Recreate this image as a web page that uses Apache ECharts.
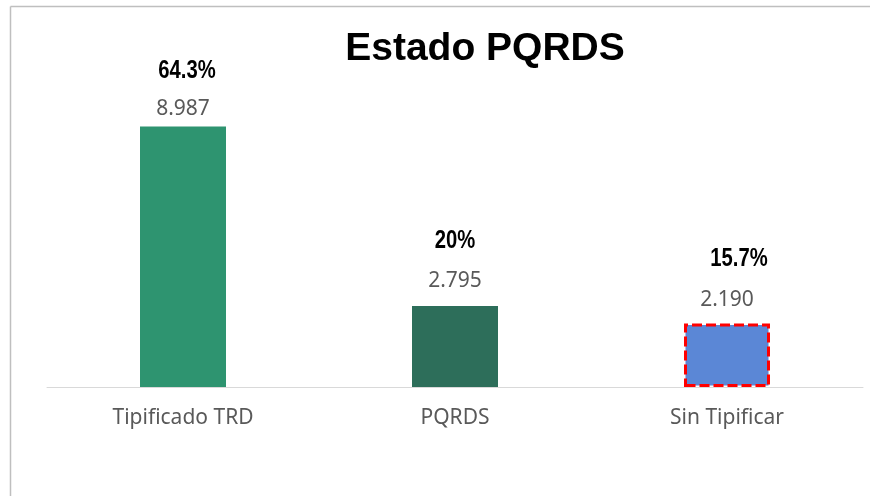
<!DOCTYPE html>
<html>
<head>
<meta charset="utf-8">
<style>
  html, body { margin: 0; padding: 0; background: #fff; }
  #chart { width: 870px; height: 496px; }
</style>
<script src="https://cdn.jsdelivr.net/npm/echarts@6/dist/echarts.min.js"></script>
</head>
<body>
<div id="chart"></div>
<script>
// datos del gráfico
const categorias = ['Tipificado TRD', 'PQRDS', 'Sin Tipificar']
const valores = [8987, 2795, 2190]
const porcentajes = ['64.3%', '20%', '15.7%']
const colores = ['#2e9470', '#2d6e5a', '#5b87d6']

// 8987 -> "8.987"
function miles (v) {
  return String(v).replace(/\B(?=(\d{3})+(?!\d))/g, '.')
}

// separación de etiquetas respecto al borde superior de la barra
const distValor = [7, 14, 13]
const distPorc = [[4, 55], [0, 65], [12, 64]]

const dom = echarts.init(document.getElementById('chart'))
const option = {
  animation: false,
  title: {
    text: 'Estado PQRDS',
    left: 480,
    textAlign: 'center',
    top: 25,
    textStyle: {
      fontFamily: 'Liberation Sans',
      fontWeight: 'bold',
      fontSize: 39,
      color: '#000'
    }
  },
  graphic: [
    { type: 'line', shape: { x1: 10.5, y1: 6.5, x2: 870, y2: 6.5 }, style: { stroke: '#bfbfbf', lineWidth: 1.5 } },
    { type: 'line', shape: { x1: 10.5, y1: 6.5, x2: 10.5, y2: 496 }, style: { stroke: '#bfbfbf', lineWidth: 1.5 } }
  ],
  grid: {
    left: 47,
    right: 7,
    top: 97,
    bottom: 109
  },
  xAxis: {
    type: 'category',
    data: categorias,
    axisTick: { show: false },
    axisLine: { lineStyle: { color: '#d9d9d9', width: 1 } },
    axisLabel: {
      margin: 21,
      fontFamily: 'Noto Sans',
      fontSize: 21,
      color: '#595959'
    }
  },
  yAxis: {
    type: 'value',
    min: 0,
    max: 10000,
    show: false,
    splitLine: { show: false }
  },
  series: [
    {
      type: 'bar',
      barWidth: 86,
      data: valores.map((v, i) => ({
        value: v,
        itemStyle: i === 2
          ? { color: colores[i], borderColor: '#ff0000', borderWidth: 3, borderType: [10, 4] }
          : { color: colores[i] },
        label: { distance: distValor[i] }
      })),
      label: {
        show: true,
        position: 'top',
        formatter: (p) => miles(p.value),
        fontFamily: 'Noto Sans',
        fontSize: 21,
        color: '#595959'
      }
    },
    {
      // porcentajes en negrita estrecha
      type: 'custom',
      data: valores.map((v, i) => [i, v]),
      renderItem: (params, api) => {
        const i = params.dataIndex
        const pt = api.coord([api.value(0), api.value(1)])
        return {
          type: 'text',
          x: pt[0] + distPorc[i][0],
          y: pt[1] - distPorc[i][1],
          scaleX: 0.81,
          scaleY: 1,
          style: {
            text: porcentajes[i],
            fontFamily: 'Liberation Sans',
            fontWeight: 'bold',
            fontSize: 25,
            fill: '#000',
            align: 'center',
            verticalAlign: 'middle'
          }
        }
      }
    }
  ]
}
dom.setOption(option)
</script>
</body>
</html>
